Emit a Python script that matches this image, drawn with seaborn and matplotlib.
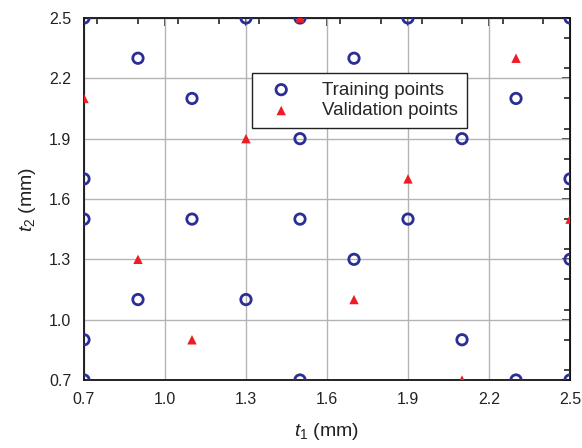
import numpy as np
import pandas as pd
import seaborn as sns
import matplotlib.pyplot as plt
from matplotlib.ticker import MultipleLocator

# training / validation sample points (t1, t2) in mm
train_t1 = [0.7, 0.9, 1.1, 1.3, 1.5, 0.7, 1.9, 2.5, 1.7, 2.3, 2.1, 2.5, 0.7, 1.1,
            1.5, 0.9, 1.3, 0.7, 0.7, 1.5, 1.9, 1.7, 2.5, 2.1, 2.3, 2.5, 1.5]
train_t2 = [2.5, 2.3, 2.1, 2.5, 1.9, 1.7, 2.5, 2.5, 2.3, 2.1, 1.9, 1.7, 1.5, 1.5,
            1.5, 1.1, 1.1, 0.9, 0.7, 0.7, 1.5, 1.3, 1.3, 0.9, 0.7, 0.7, 2.5]
val_t1 = [1.5, 0.7, 1.3, 2.3, 1.9, 0.9, 1.1, 2.5, 1.7, 2.1]
val_t2 = [2.5, 2.1, 1.9, 2.3, 1.7, 1.3, 0.9, 1.5, 1.1, 0.7]

ticks = [0.7, 1.0, 1.3, 1.6, 1.9, 2.2, 2.5]
tick_labels = ["0.7", "1.0", "1.3", "1.6", "1.9", "2.2", "2.5"]

sns.set_style("white")
plt.rcParams['font.family'] = ['Liberation Sans', 'DejaVu Sans']
plt.rcParams['mathtext.fontset'] = 'custom'
plt.rcParams['mathtext.it'] = 'Liberation Sans:italic'
plt.rcParams['mathtext.rm'] = 'Liberation Sans'

train = pd.DataFrame({"t1": train_t1, "t2": train_t2})
val = pd.DataFrame({"t1": val_t1, "t2": val_t2})

fig = plt.figure(figsize=(5.82, 4.48), dpi=100)
ax = fig.add_axes([0.1443, 0.1518, 0.8351, 0.808])

sns.scatterplot(data=train, x="t1", y="t2", ax=ax, marker="o", s=56,
                facecolors="none", edgecolor="#2B2E94", linewidth=2.0,
                label="Training points", zorder=3)
sns.scatterplot(data=val, x="t1", y="t2", ax=ax, marker="^", s=46,
                color="#EE1C25", edgecolor="none", linewidth=0,
                label="Validation points", zorder=4)

ax.set_xlim(0.7, 2.5)
ax.set_ylim(0.7, 2.5)
ax.set_xticks(ticks)
ax.set_xticklabels(tick_labels)
ax.set_yticks(ticks)
ax.set_yticklabels(tick_labels)
ax.xaxis.set_minor_locator(MultipleLocator(0.15))
ax.yaxis.set_minor_locator(MultipleLocator(0.15))
ax.grid(True, which="major", color="#b4b4b4", linewidth=1.0)
ax.set_axisbelow(True)

ax.tick_params(which="major", direction="out", length=6, width=1.2,
               labelsize=11.5, colors="#222222", pad=3)
ax.tick_params(which="minor", direction="out", length=4.5, width=1.2, colors="#222222")
for sp in ax.spines.values():
    sp.set_linewidth(1.3)
    sp.set_color("#111111")

# mirrored inward ticks on top and right
top = ax.secondary_xaxis("top")
top.set_xticks(ticks)
top.xaxis.set_minor_locator(MultipleLocator(0.15))
top.tick_params(which="both", direction="in", labeltop=False, width=1.2, colors="#222222")
top.tick_params(which="major", length=6)
top.tick_params(which="minor", length=4.5)
right = ax.secondary_yaxis("right")
right.set_yticks(ticks)
right.yaxis.set_minor_locator(MultipleLocator(0.15))
right.tick_params(which="both", direction="in", labelright=False, width=1.2, colors="#222222")
right.tick_params(which="major", length=6)
right.tick_params(which="minor", length=4.5)

ax.set_xlabel("$t_1$ (mm)", fontsize=14, color="#222222", labelpad=10)
ax.set_ylabel("$t_2$ (mm)", fontsize=14, color="#222222", labelpad=8)

leg = ax.legend(loc="upper left", bbox_to_anchor=(0.346, 0.848), borderaxespad=0,
                fontsize=13.5, frameon=True, fancybox=False, framealpha=1,
                edgecolor="#222222", handletextpad=1.1, borderpad=0.45,
                labelspacing=0.2, handlelength=2.2)
leg.get_frame().set_linewidth(1.0)

fig.savefig("out.png", dpi=100)
